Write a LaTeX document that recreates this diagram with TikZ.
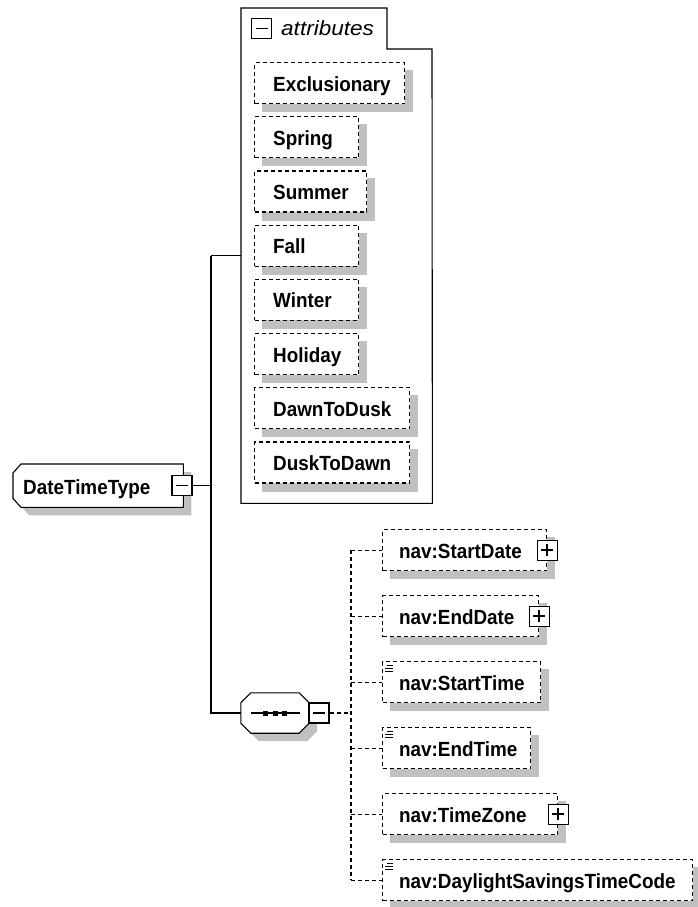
\documentclass[tikz,border=0pt]{standalone}
\usepackage{fontspec}
\newfontfamily\lblfont{Liberation Sans}[FakeStretch=0.92]
\newfontfamily\attrfont{Liberation Sans}[FakeStretch=1.1]
\usetikzlibrary{calc,backgrounds}
\definecolor{shadowgray}{RGB}{192,192,192}
\newcommand\shadowof[1]{\fill[shadowgray] ($(#1.north west)+(8,8)$) rectangle ($(#1.south east)+(8,8)$);}
\tikzset{
  ln/.style={line width=1.1pt},
  dln/.style={line width=1.15pt, dash pattern=on 4pt off 3pt},
  ebox/.style={draw, dln, fill=white, anchor=north west, minimum height=41pt, inner sep=0pt},
  holder/.style={inner sep=0pt, anchor=north west},
  txt/.style={font=\lblfont\bfseries\fontsize{20.5}{24}\selectfont, anchor=base west, inner sep=0pt},
  pmbox/.style={draw, ln, fill=white, minimum width=20pt, minimum height=20pt, inner sep=0pt},
  minusbox/.style={pmbox, path picture={\draw[line width=1.4pt] ($(path picture bounding box.center)+(-6,0)$) -- ($(path picture bounding box.center)+(6,0)$);}},
  plusbox/.style={pmbox, path picture={\draw[line width=1.4pt] ($(path picture bounding box.center)+(-6,0)$) -- ($(path picture bounding box.center)+(6,0)$) ($(path picture bounding box.center)+(0,-6)$) -- ($(path picture bounding box.center)+(0,6)$);}},
}
\begin{document}
\begin{tikzpicture}[x=1pt,y=-1pt]
\useasboundingbox (0,0) rectangle (697,907);

% root element
\node[holder, minimum width=170pt, minimum height=43pt] (dtt) at (13,464) {};
\draw[ln, fill=white] ($(dtt.north west)+(8,0)$) -- (dtt.north east) -- (dtt.south east) -- ($(dtt.south west)+(8,0)$) -- ($(dtt.south west)+(0,-9)$) -- ($(dtt.north west)+(0,9)$) -- cycle;
\node[txt] (dtt-t) at (23,494) {DateTimeType};
\node[minusbox] (dtt-m) at (182,485.5) {};

% attributes container
\node[holder, minimum width=191pt, minimum height=495pt] (attr) at (241,8) {};
\draw[ln] (attr.north west) -- (387,8) -- (387,49) -- (432,49) -- (attr.south east) -- (attr.south west) -- cycle;
\node[minusbox] (attr-m) at (261.5,28.5) {};
\node[font=\attrfont\itshape\fontsize{20.5}{24}\selectfont, anchor=base west, inner sep=0pt] (attr-t) at (281,36) {attributes};

\foreach \nm/\tx/\w [count=\i from 0] in {exc/Exclusionary/150, spr/Spring/104, sum/Summer/112, fal/Fall/104, win/Winter/104, hol/Holiday/104, dtd/DawnToDusk/155, dtn/DuskToDawn/155} {
  \node[ebox, minimum width=\w pt] (\nm) at (254, 62+54.2*\i) {};
  \node[txt] (\nm-t) at ($(\nm.west)+(19,8)$) {\tx};
}

% sequence compositor
\node[inner sep=0pt, minimum width=68pt, minimum height=40pt] (seq) at (275,713) {};
\draw[ln, fill=white] ($(seq.north west)+(10,0)$) -- ($(seq.north east)+(-10,0)$) -- ($(seq.north east)+(0,10)$) -- ($(seq.south east)+(0,-10)$) -- ($(seq.south east)+(-10,0)$) -- ($(seq.south west)+(10,0)$) -- ($(seq.south west)+(0,-10)$) -- ($(seq.north west)+(0,10)$) -- cycle;
\draw[ln] ($(seq.center)+(-24,0)$) -- ($(seq.center)+(25,0)$);
\foreach \dx in {-10,0,9} \fill ($(seq.center)+(\dx-2.5,-2.5)$) rectangle +(5,5);
\node[minusbox] (seq-m) at (319,713) {};

% child elements
\foreach \nm/\tx/\w [count=\i from 0] in {sd/nav:StartDate/164, ed/nav:EndDate/156, st/nav:StartTime/158, et/nav:EndTime/148, tz/nav:TimeZone/175, ds/nav:DaylightSavingsTimeCode/310} {
  \node[ebox, minimum width=\w pt] (\nm) at (382, 529+66*\i) {};
  \node[txt] (\nm-t) at ($(\nm.west)+(17,8)$) {\tx};
}
\foreach \nm in {sd,ed,tz} \node[plusbox] (\nm-p) at (\nm.east) {};
\foreach \nm in {st,et,ds} {
  \draw[line width=1pt] ($(\nm.north west)+(5,4)$) -- +(6,0)
                        ($(\nm.north west)+(3,7)$) -- +(8,0)
                        ($(\nm.north west)+(3,10)$) -- +(8,0);
}

% shadows
\begin{scope}[on background layer]
  \begin{scope}[transform canvas={xshift=8pt,yshift=-8pt}]
    \fill[shadowgray] ($(dtt.north west)+(8,0)$) -- (dtt.north east) -- (dtt.south east) -- ($(dtt.south west)+(8,0)$) -- ($(dtt.south west)+(0,-9)$) -- ($(dtt.north west)+(0,9)$) -- cycle;
    \fill[shadowgray] ($(seq.north west)+(10,0)$) -- ($(seq.north east)+(-10,0)$) -- ($(seq.north east)+(0,10)$) -- ($(seq.south east)+(0,-10)$) -- ($(seq.south east)+(-10,0)$) -- ($(seq.south west)+(10,0)$) -- ($(seq.south west)+(0,-10)$) -- ($(seq.north west)+(0,10)$) -- cycle;
  \end{scope}
  \foreach \nm in {exc,spr,sum,fal,win,hol,dtd,dtn,sd,ed,st,et,tz,ds} {\shadowof{\nm}}
\end{scope}

% connectors
\coordinate (bus) at (211,485);
\draw[ln] (dtt-m.east) -- (dtt-m.east -| bus);
\draw[ln] (attr.west -| bus) -- (attr.west);
\draw[ln] (attr.west -| bus) -- (seq.west -| bus) -- (seq.west);
\coordinate (cbus) at (351,713);
\draw[dln] (seq-m.east) -- (cbus);
\draw[dln] (sd.west -| cbus) -- (ds.west -| cbus);
\foreach \nm in {sd,ed,st,et,tz,ds} \draw[dln] (\nm.west -| cbus) -- (\nm.west);
\end{tikzpicture}
\end{document}
